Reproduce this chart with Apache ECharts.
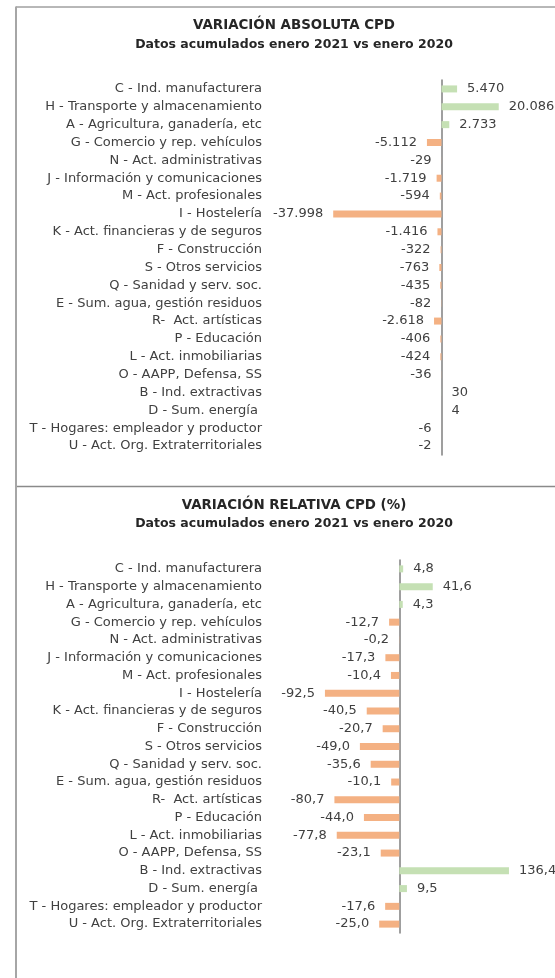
<!DOCTYPE html>
<html>
<head>
<meta charset="utf-8">
<title>Variación CPD</title>
<script src="https://cdn.jsdelivr.net/npm/echarts@6/dist/echarts.min.js"></script>
<style>
html, body { margin: 0; padding: 0; background: #fff; }
#chart { width: 555px; height: 978px; }
</style>
</head>
<body>
<div id="chart"></div>
<script>
var sectores = [
    'C - Ind. manufacturera',
    'H - Transporte y almacenamiento',
    'A - Agricultura, ganadería, etc',
    'G - Comercio y rep. vehículos',
    'N - Act. administrativas',
    'J - Información y comunicaciones',
    'M - Act. profesionales',
    'I - Hostelería',
    'K - Act. financieras y de seguros',
    'F - Construcción',
    'S - Otros servicios',
    'Q - Sanidad y serv. soc.',
    'E - Sum. agua, gestión residuos',
    'R-  Act. artísticas',
    'P - Educación',
    'L - Act. inmobiliarias',
    'O - AAPP, Defensa, SS',
    'B - Ind. extractivas',
    'D - Sum. energía ',
    'T - Hogares: empleador y productor',
    'U - Act. Org. Extraterritoriales'
];

// variación absoluta (personas)
var variacionAbsoluta = [5470, 20086, 2733, -5112, -29, -1719, -594, -37998, -1416, -322,
    -763, -435, -82, -2618, -406, -424, -36, 30, 4, -6, -2];

// variación relativa (%)
var variacionRelativa = [4.8, 41.6, 4.3, -12.7, -0.2, -17.3, -10.4, -92.5, -40.5, -20.7,
    -49.0, -35.6, -10.1, -80.7, -44.0, -77.8, -23.1, 136.4, 9.5, -17.6, -25.0];

var VERDE = '#c5e0b4',
    NARANJA = '#f4b183',
    TEXTO = '#404040',
    FUENTE = 'DejaVu Sans';

function miles(v) {
    var s = String(Math.abs(v)).replace(/\B(?=(\d{3})+(?!\d))/g, '.');
    return (v < 0 ? '-' : '') + s;
}

function decimal(v) {
    return v.toFixed(1).replace('.', ',');
}

function barras(valores) {
    return valores.map(function (v) {
        return {
            value: v,
            itemStyle: { color: v < 0 ? NARANJA : VERDE },
            label: { position: v < 0 ? 'left' : 'right' }
        };
    });
}

// las etiquetas quedan a la izquierda del área, alineadas en x = 262
function ejeCategorias(indice, margen) {
    return {
        type: 'category',
        gridIndex: indice,
        inverse: true,
        data: sectores,
        axisLine: { onZero: true, lineStyle: { color: '#7f7f7f', width: 1.5 } },
        axisTick: { show: false },
        axisLabel: { margin: margen, color: TEXTO, fontFamily: FUENTE, fontSize: 13 }
    };
}

function serie(indice, valores, formato) {
    return {
        type: 'bar',
        xAxisIndex: indice,
        yAxisIndex: indice,
        barWidth: 7,
        data: barras(valores),
        label: {
            show: true,
            distance: 10,
            color: TEXTO,
            fontFamily: FUENTE,
            fontSize: 13,
            formatter: function (p) { return formato(p.value); }
        }
    };
}

function titulo(y, texto, tam) {
    return {
        type: 'text',
        x: 294,
        y: y,
        style: {
            text: texto,
            textAlign: 'center',
            textVerticalAlign: 'middle',
            font: 'bold ' + tam + 'px "DejaVu Sans"',
            fill: '#262626'
        }
    };
}

function linea(x1, y1, x2, y2, color, ancho) {
    return {
        type: 'line',
        shape: { x1: x1, y1: y1, x2: x2, y2: y2 },
        style: { stroke: color, lineWidth: ancho }
    };
}

var myChart = echarts.init(document.getElementById('chart'));
myChart.setOption({
    animation: false,
    backgroundColor: '#fff',
    grid: [
        { left: 327.5, width: 185.25, top: 80, height: 375, containLabel: false, outerBoundsMode: 'none' },
        { left: 318.9, width: 201, top: 560, height: 373, containLabel: false, outerBoundsMode: 'none' }
    ],
    xAxis: [
        { type: 'value', gridIndex: 0, min: -40000, max: 25000, show: false },
        { type: 'value', gridIndex: 1, min: -100, max: 150, show: false }
    ],
    yAxis: [
        ejeCategorias(0, 65.5),
        ejeCategorias(1, 56.9)
    ],
    series: [
        serie(0, variacionAbsoluta, miles),
        serie(1, variacionRelativa, decimal)
    ],
    graphic: [
        linea(16, 7, 560, 7, '#707070', 1),
        linea(16, 486.5, 560, 486.5, '#8a8a8a', 1.5),
        linea(16, 6.5, 16, 978, '#a6a6a6', 2),
        titulo(25.5, 'VARIACIÓN ABSOLUTA CPD', 13.4),
        titulo(44.5, 'Datos acumulados enero 2021 vs enero 2020', 12.5),
        titulo(506, 'VARIACIÓN RELATIVA CPD (%)', 13.4),
        titulo(523.5, 'Datos acumulados enero 2021 vs enero 2020', 12.5)
    ]
});
</script>
</body>
</html>
